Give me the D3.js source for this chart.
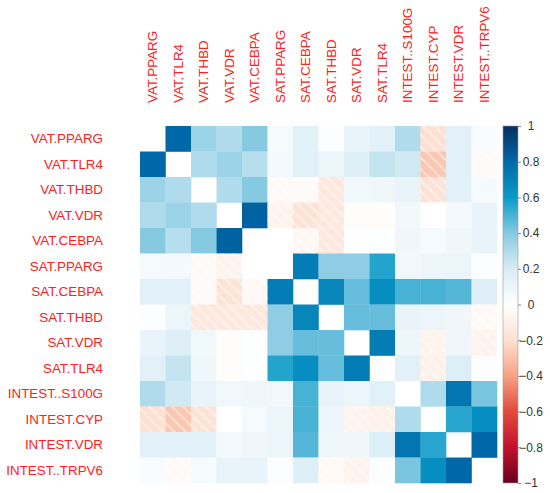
<!DOCTYPE html>
<html>
<head>
<meta charset="utf-8">
<script src="https://cdn.jsdelivr.net/npm/d3@7"></script>
<style>
  body { margin: 0; background: #fff; }
  text { font-family: "Liberation Sans", Arial, sans-serif; }
</style>
</head>
<body>
<svg id="corr"></svg>
<script>
// variable names (rows and columns share the same order)
const labels = [
  'VAT.PPARG', 'VAT.TLR4', 'VAT.THBD', 'VAT.VDR', 'VAT.CEBPA',
  'SAT.PPARG', 'SAT.CEBPA', 'SAT.THBD', 'SAT.VDR', 'SAT.TLR4',
  'INTEST..S100G', 'INTEST.CYP', 'INTEST.VDR', 'INTEST..TRPV6'
];

// correlation values (diagonal drawn blank)
const corr = [
  [0.00, 0.80, 0.35, 0.30, 0.40, 0.05, 0.15, 0.02, 0.12, 0.15, 0.30, -0.20, 0.15, 0.03],
  [0.80, 0.00, 0.30, 0.35, 0.28, 0.06, 0.15, 0.10, 0.17, 0.25, 0.22, -0.28, 0.15, -0.03],
  [0.35, 0.30, 0.00, 0.30, 0.40, -0.03, -0.03, -0.15, 0.07, 0.08, 0.12, -0.18, 0.15, 0.05],
  [0.30, 0.35, 0.30, 0.00, 0.82, -0.08, -0.18, -0.15, -0.02, -0.02, 0.07, 0.00, 0.06, 0.12],
  [0.40, 0.28, 0.40, 0.82, 0.00, 0.00, -0.05, -0.15, 0.01, 0.01, 0.08, 0.05, 0.08, 0.12],
  [0.05, 0.06, -0.03, -0.08, 0.00, 0.00, 0.72, 0.38, 0.38, 0.56, 0.07, 0.10, 0.10, 0.02],
  [0.15, 0.15, -0.03, -0.18, -0.05, 0.72, 0.00, 0.68, 0.45, 0.65, 0.50, 0.50, 0.48, 0.17],
  [0.02, 0.10, -0.15, -0.15, -0.15, 0.38, 0.68, 0.00, 0.45, 0.45, 0.12, 0.10, 0.08, -0.04],
  [0.12, 0.17, 0.07, -0.02, 0.01, 0.38, 0.45, 0.45, 0.00, 0.72, 0.09, -0.08, 0.08, -0.08],
  [0.15, 0.25, 0.08, -0.02, 0.01, 0.56, 0.65, 0.45, 0.72, 0.00, 0.15, -0.09, 0.18, 0.02],
  [0.30, 0.22, 0.12, 0.07, 0.08, 0.07, 0.50, 0.12, 0.09, 0.15, 0.00, 0.30, 0.75, 0.42],
  [-0.20, -0.28, -0.18, 0.00, 0.05, 0.10, 0.50, 0.10, -0.08, -0.09, 0.30, 0.00, 0.55, 0.65],
  [0.15, 0.15, 0.15, 0.06, 0.08, 0.10, 0.48, 0.08, 0.08, 0.18, 0.75, 0.55, 0.00, 0.80],
  [0.03, -0.03, 0.05, 0.12, 0.12, 0.02, 0.17, -0.04, -0.08, 0.02, 0.42, 0.65, 0.80, 0.00]
];

// colour legend ticks
const legendTicks = [1, 0.8, 0.6, 0.4, 0.2, 0, -0.2, -0.4, -0.6, -0.8, -1];

const width = 550;
const height = 493;

const svg = d3.select('#corr')
  .attr('width', width)
  .attr('height', height);

// colour ramp, red for negative, blue for positive
const color = d3.scaleLinear()
  .domain([-1, -0.8, -0.6, -0.4, -0.2, 0, 0.2, 0.4, 0.6, 0.8, 1])
  .range(['#67001f', '#c4112d', '#e24a3b', '#f6a283', '#fde0d1', '#ffffff',
          '#d8ecf5', '#86cae2', '#0a9ac8', '#0068a8', '#05305e'])
  .interpolate(d3.interpolateRgb);

const x = d3.scaleBand().domain(labels).range([140, 497]);
const y = d3.scaleBand().domain(labels).range([126, 483]);

// hatch pattern laid over negative cells
const defs = svg.append('defs');
const hatch = defs.append('pattern')
  .attr('id', 'hatch')
  .attr('patternUnits', 'userSpaceOnUse')
  .attr('width', 8)
  .attr('height', 8)
  .attr('patternTransform', 'rotate(-45)');
hatch.append('line')
  .attr('x1', 2).attr('y1', 0)
  .attr('x2', 2).attr('y2', 8)
  .attr('stroke', '#fff')
  .attr('stroke-width', 1.6)
  .attr('stroke-opacity', 0.55);

// flatten matrix into cells
const cells = [];
corr.forEach((row, i) => {
  row.forEach((v, j) => {
    cells.push({ row: labels[i], col: labels[j], value: v, diag: i === j });
  });
});

const grid = svg.append('g');

grid.selectAll('rect.cell')
  .data(cells.filter(d => !d.diag))
  .enter()
  .append('rect')
  .attr('class', 'cell')
  .attr('x', d => x(d.col))
  .attr('y', d => y(d.row))
  .attr('width', x.bandwidth() + 0.3)
  .attr('height', y.bandwidth() + 0.3)
  .attr('fill', d => color(d.value));

grid.selectAll('rect.neg')
  .data(cells.filter(d => !d.diag && d.value < 0))
  .enter()
  .append('rect')
  .attr('class', 'neg')
  .attr('x', d => x(d.col))
  .attr('y', d => y(d.row))
  .attr('width', x.bandwidth())
  .attr('height', y.bandwidth())
  .attr('fill', 'url(#hatch)');

// row labels
svg.append('g')
  .selectAll('text')
  .data(labels)
  .enter()
  .append('text')
  .attr('x', 103)
  .attr('y', d => y(d) + y.bandwidth() / 2)
  .attr('dy', '0.35em')
  .attr('text-anchor', 'end')
  .attr('fill', '#ff2020')
  .style('font-size', '13.4px')
  .text(d => d);

// column labels, rotated
svg.append('g')
  .selectAll('text')
  .data(labels)
  .enter()
  .append('text')
  .attr('transform', d => `translate(${x(d) + x.bandwidth() / 2},103) rotate(-90)`)
  .attr('dy', '0.35em')
  .attr('text-anchor', 'start')
  .attr('fill', '#ff2020')
  .style('font-size', '13.4px')
  .text(d => d);

// colour bar
const barScale = d3.scaleLinear().domain([-1, 1]).range([483, 126]);

const grad = defs.append('linearGradient')
  .attr('id', 'bar')
  .attr('x1', 0).attr('y1', 1)
  .attr('x2', 0).attr('y2', 0);
grad.selectAll('stop')
  .data(d3.range(0, 1.0001, 0.05))
  .enter()
  .append('stop')
  .attr('offset', d => d)
  .attr('stop-color', d => color(d * 2 - 1));

svg.append('rect')
  .attr('x', 503)
  .attr('y', barScale(1))
  .attr('width', 15)
  .attr('height', barScale(-1) - barScale(1))
  .attr('fill', 'url(#bar)')
  .attr('stroke', '#9a9a9a')
  .attr('stroke-width', 0.6);

const legendAxis = svg.append('g')
  .attr('transform', 'translate(518,0)')
  .call(d3.axisRight(barScale)
    .tickValues(legendTicks)
    .tickSize(3)
    .tickFormat(d3.format('')));

legendAxis.select('.domain').remove();
legendAxis.selectAll('.tick line').attr('stroke', '#888');
legendAxis.selectAll('.tick text')
  .attr('x', 13)
  .attr('text-anchor', 'middle')
  .attr('fill', '#333')
  .style('font-size', '12px')
  .style('font-family', '"Liberation Sans", Arial, sans-serif');
</script>
</body>
</html>
